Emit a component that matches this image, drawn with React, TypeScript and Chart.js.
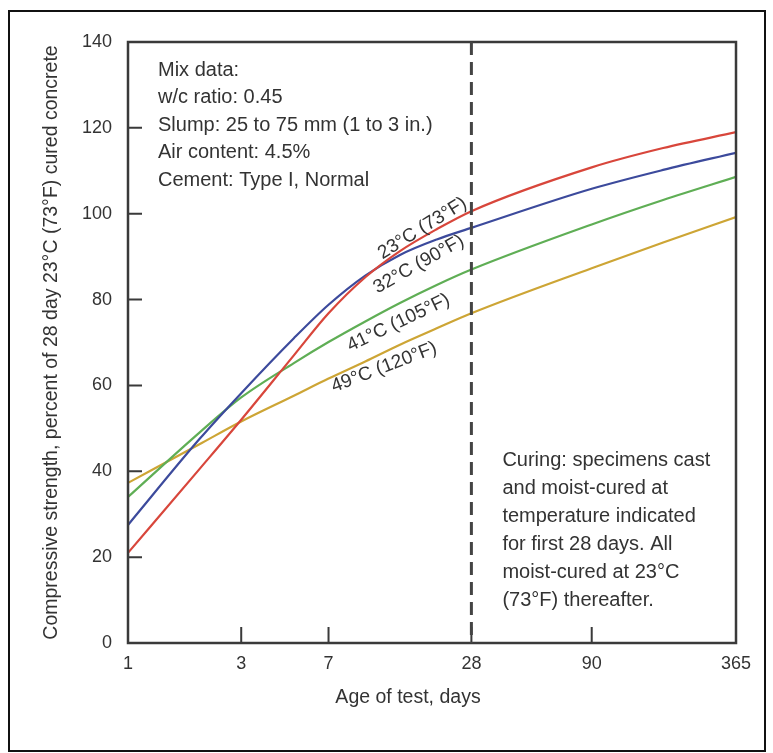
import { useEffect, useRef } from "react";
import { Chart, registerables } from "chart.js";

Chart.register(...registerables);

// ---- data ----
const ages = [1, 2, 3, 5, 7, 10, 14, 20, 28, 90, 180, 365];
const strength23C = [21, 40.5, 52, 67, 76.8, 85.2, 91.3, 96.4, 100.6, 110.8, 115.3, 119];
const strength32C = [27.5, 47.5, 58.2, 71, 78.8, 85.6, 90.4, 94, 96.7, 105.8, 110.2, 114.2];
const strength41C = [34, 49, 57.2, 65.2, 70.1, 74.9, 79.2, 83.4, 87, 97.5, 103.2, 108.6];
const strength49C = [37.3, 46.3, 51.6, 57.6, 61.6, 65.6, 69.5, 73.3, 76.8, 87.3, 93.3, 99.2];

const seriesLabels = ["23°C (73°F)", "32°C (90°F)", "41°C (105°F)", "49°C (120°F)"];
const seriesColors = ["#d8463b", "#3c4a9c", "#5fae55", "#cda535"];
// label anchor positions (age, value) and rotation (degrees)
const labelAges = [17.4, 16.8, 13.8, 12.0];
const labelValues = [96.6, 88.2, 74.6, 64.2];
const labelAngles = [-32, -29.5, -25.5, -21];

const xTickValues = [1, 3, 7, 28, 90, 365];
const yTickValues = [0, 20, 40, 60, 80, 100, 120, 140];

const xTitle = "Age of test, days";
const yTitle = "Compressive strength, percent of 28 day 23°C (73°F) cured concrete";

const mixDataLines = [
  "Mix data:",
  "w/c ratio: 0.45",
  "Slump: 25 to 75 mm (1 to 3 in.)",
  "Air content: 4.5%",
  "Cement: Type I, Normal",
];
const curingLines = [
  "Curing: specimens cast",
  "and moist-cured at",
  "temperature indicated",
  "for first 28 days. All",
  "moist-cured at 23°C",
  "(73°F) thereafter.",
];
const curingAge = 28;

const FONT = "'Liberation Sans', Arial, Helvetica, sans-serif";
const TEXT = "#333";

const decorPlugin = {
  id: "decor",
  beforeDraw(chart: any) {
    const ctx = chart.ctx;
    ctx.save();
    ctx.fillStyle = "#ffffff";
    ctx.fillRect(0, 0, chart.width, chart.height);
    ctx.restore();
  },
  afterDatasetsDraw(chart: any) {
    const ctx = chart.ctx;
    const { left, right, top, bottom } = chart.chartArea;
    const xs = chart.scales.x;
    const ys = chart.scales.y;
    ctx.save();

    // outer border
    ctx.strokeStyle = "#111";
    ctx.lineWidth = 2;
    ctx.strokeRect(9, 11, 756, 740);

    // frame
    ctx.strokeStyle = "#3a3a3a";
    ctx.lineWidth = 2.5;
    ctx.strokeRect(left, top, right - left, bottom - top);

    // inward tick marks
    ctx.lineWidth = 2;
    ctx.beginPath();
    yTickValues.forEach((v) => {
      if (v <= 0 || v >= 140) return;
      const y = ys.getPixelForValue(v);
      ctx.moveTo(left, y);
      ctx.lineTo(left + 14, y);
    });
    xTickValues.forEach((v) => {
      if (v <= 1 || v >= 365) return;
      const x = xs.getPixelForValue(v);
      ctx.moveTo(x, bottom);
      ctx.lineTo(x, bottom - 16);
    });
    ctx.stroke();

    // dashed line at 28 days
    const xd = xs.getPixelForValue(curingAge);
    ctx.strokeStyle = "#444";
    ctx.lineWidth = 3;
    ctx.setLineDash([13, 7]);
    ctx.beginPath();
    ctx.moveTo(xd, top);
    ctx.lineTo(xd, bottom);
    ctx.stroke();
    ctx.setLineDash([]);

    // curve labels
    ctx.fillStyle = TEXT;
    ctx.font = `19px ${FONT}`;
    ctx.textAlign = "center";
    ctx.textBaseline = "middle";
    seriesLabels.forEach((t, i) => {
      const x = xs.getPixelForValue(labelAges[i]);
      const y = ys.getPixelForValue(labelValues[i]);
      ctx.save();
      ctx.translate(x, y);
      ctx.rotate((labelAngles[i] * Math.PI) / 180);
      ctx.fillText(t, 0, 0);
      ctx.restore();
    });

    // x axis title (set left of centre, as in the original)
    ctx.font = `19.5px ${FONT}`;
    ctx.fillText(xTitle, left + 280, bottom + 55);

    // mix data block
    ctx.font = `20px ${FONT}`;
    ctx.textAlign = "left";
    mixDataLines.forEach((t, i) => {
      ctx.fillText(t, left + 30, top + 28 + i * 27.5);
    });

    // curing block
    const yc = ys.getPixelForValue(42.5);
    curingLines.forEach((t, i) => {
      ctx.fillText(t, xd + 31, yc + i * 28);
    });

    ctx.restore();
  },
};

export default function App() {
  const ref = useRef<HTMLCanvasElement | null>(null);

  useEffect(() => {
    document.body.style.margin = "0";
    const canvas = ref.current;
    if (!canvas) return;
    const mk = (data: number[], i: number) => ({
      label: seriesLabels[i],
      data: ages.map((a, k) => ({ x: a, y: data[k] })),
      borderColor: seriesColors[i],
      backgroundColor: seriesColors[i],
      borderWidth: 2.2,
      pointRadius: 0,
      cubicInterpolationMode: "monotone" as const,
      fill: false,
    });
    const chart = new Chart(canvas, {
      type: "line",
      data: {
        datasets: [
          mk(strength23C, 0),
          mk(strength32C, 1),
          mk(strength41C, 2),
          mk(strength49C, 3),
        ],
      },
      options: {
        responsive: false,
        animation: false,
        devicePixelRatio: 1,
        layout: { padding: { left: 0, top: 42, right: 37, bottom: 0 } },
        plugins: {
          legend: { display: false },
          tooltip: { enabled: false },
        },
        scales: {
          x: {
            type: "logarithmic",
            min: 1,
            max: 365,
            grid: { display: false, drawTicks: false },
            border: { display: false },
            afterBuildTicks: (s: any) => {
              s.ticks = xTickValues.map((v) => ({ value: v }));
            },
            afterFit: (s: any) => {
              s.height = 110;
            },
            ticks: {
              autoSkip: false,
              maxRotation: 0,
              padding: 10,
              color: TEXT,
              font: { family: FONT, size: 18 },
              callback: (v: any) => String(v),
            },
            title: { display: false, text: xTitle },
          },
          y: {
            type: "linear",
            min: 0,
            max: 140,
            grid: { display: false, drawTicks: false },
            border: { display: false },
            afterBuildTicks: (s: any) => {
              s.ticks = yTickValues.map((v) => ({ value: v }));
            },
            afterFit: (s: any) => {
              s.width = 128;
            },
            ticks: {
              padding: 16,
              color: TEXT,
              font: { family: FONT, size: 18 },
            },
            title: {
              display: true,
              text: yTitle,
              color: TEXT,
              font: { family: FONT, size: 19.5 },
              padding: { top: 40, bottom: 0 },
            },
          },
        },
      },
      plugins: [decorPlugin],
    });
    return () => chart.destroy();
  }, []);

  return (
    <div style={{ position: "relative", width: 773, height: 753 }}>
      <canvas ref={ref} width={773} height={753} style={{ display: "block", width: 773, height: 753 }} />
    </div>
  );
}
